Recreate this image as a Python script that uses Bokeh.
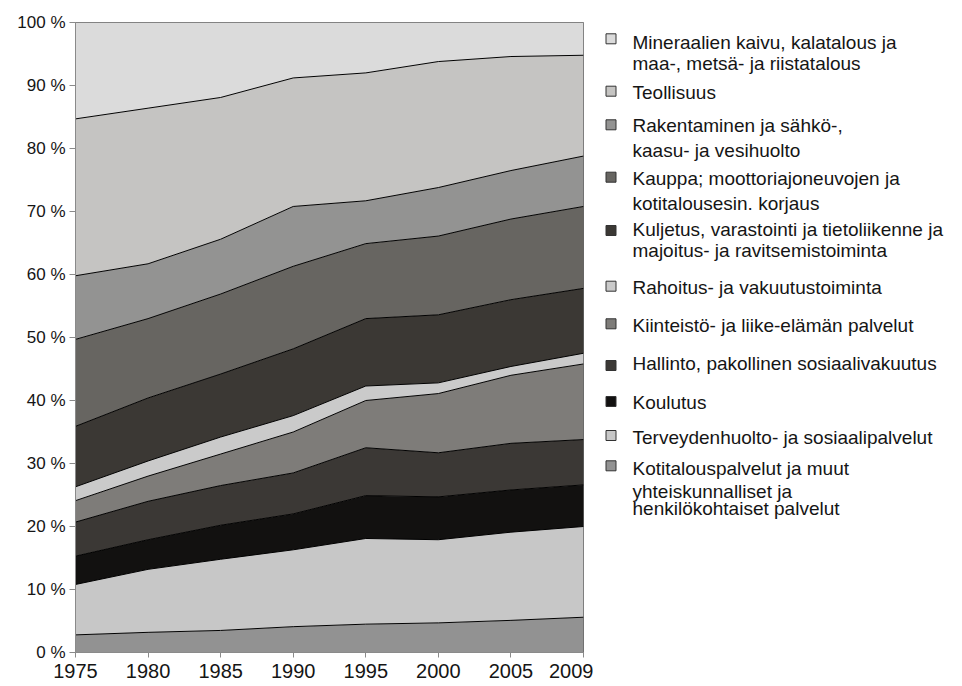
import numpy as np
from bokeh.plotting import figure
from bokeh.layouts import row
from bokeh.models import Range1d, FixedTicker, PrintfTickFormatter
from bokeh.core.properties import value
from bokeh.embed import file_html
from bokeh.resources import INLINE

# ---------------- data (shares of total, %), stacking order bottom -> top
years = ["1975", "1980", "1985", "1990", "1995", "2000", "2005", "2009"]

kotitalous = [2.8, 3.2, 3.5, 4.1, 4.5, 4.7, 5.1, 5.6]
terveys = [8.0, 10.0, 11.3, 12.2, 13.6, 13.2, 14.0, 14.4]
koulutus = [4.5, 4.7, 5.4, 5.7, 6.8, 6.8, 6.7, 6.6]
hallinto = [5.4, 6.1, 6.3, 6.5, 7.6, 7.0, 7.4, 7.2]
kiinteisto = [3.4, 4.0, 5.0, 6.5, 7.5, 9.4, 10.8, 12.0]
rahoitus = [2.2, 2.4, 2.7, 2.6, 2.3, 1.7, 1.4, 1.7]
kuljetus = [9.6, 10.0, 10.0, 10.6, 10.7, 10.8, 10.6, 10.3]
kauppa = [13.8, 12.6, 12.7, 13.1, 11.9, 12.5, 12.8, 13.0]
rakentaminen = [10.1, 8.7, 8.7, 9.5, 6.8, 7.7, 7.7, 8.0]
teollisuus = [24.9, 24.7, 22.5, 20.4, 20.3, 20.0, 18.1, 16.0]
mineraalit = [15.3, 13.6, 11.9, 8.8, 8.0, 6.2, 5.4, 5.2]

series = [kotitalous, terveys, koulutus, hallinto, kiinteisto, rahoitus,
          kuljetus, kauppa, rakentaminen, teollisuus, mineraalit]

# legend labels (top -> bottom, i.e. reverse stacking order), split in lines
legend_labels = [
    ["Mineraalien kaivu, kalatalous ja", "maa-, metsä- ja riistatalous"],
    ["Teollisuus"],
    ["Rakentaminen ja sähkö-,", "kaasu- ja vesihuolto"],
    ["Kauppa; moottoriajoneuvojen ja", "kotitalousesin. korjaus"],
    ["Kuljetus, varastointi ja tietoliikenne ja", "majoitus- ja ravitsemistoiminta"],
    ["Rahoitus- ja vakuutustoiminta"],
    ["Kiinteistö- ja liike-elämän palvelut"],
    ["Hallinto, pakollinen sosiaalivakuutus"],
    ["Koulutus"],
    ["Terveydenhuolto- ja sosiaalipalvelut"],
    ["Kotitalouspalvelut ja muut", "yhteiskunnalliset ja", "henkilökohtaiset palvelut"],
]

y_ticks = [0, 10, 20, 30, 40, 50, 60, 70, 80, 90, 100]

# ---------------- styles
colors = ["#929292", "#c7c7c7", "#121110", "#3b3835", "#7e7c79", "#cacaca",
          "#3b3834", "#676561", "#939392", "#c5c4c2", "#dbdbdb"]
FONT = "Liberation Sans"
TXT = "#151515"

# ---------------- main chart
x = np.arange(len(years))
cum = np.cumsum(np.array(series, dtype=float), axis=0)
lower = np.vstack([np.zeros(len(years)), cum[:-1]])

W_MAIN, H = 593, 684
TOP, BOTTOM = 22, 32
p = figure(width=W_MAIN, height=H, output_backend="svg", toolbar_location=None,
           title=None,
           x_range=Range1d(0, len(years) - 1), y_range=Range1d(0, 100),
           min_border_left=75, min_border_right=10, min_border_top=TOP,
           min_border_bottom=BOTTOM)
p.xgrid.visible = False
p.ygrid.visible = False
p.outline_line_color = "#666666"
p.outline_line_width = 1

for i in range(len(series)):
    p.varea(x=x, y1=lower[i], y2=cum[i], fill_color=colors[i], fill_alpha=1.0)
for i in range(len(series) - 1):
    p.line(x=x, y=cum[i], line_color="#000000", line_width=1)

p.xaxis.ticker = FixedTicker(ticks=list(range(len(years))))
p.xaxis.major_label_overrides = {i: yr for i, yr in enumerate(years)}
p.yaxis.ticker = FixedTicker(ticks=y_ticks)
p.yaxis.formatter = PrintfTickFormatter(format="%d %%")
for ax in (p.xaxis[0], p.yaxis[0]):
    ax.axis_line_color = "#8a8a8a"
    ax.major_tick_line_color = "#8a8a8a"
    ax.minor_tick_line_color = None
    ax.major_tick_in = 0
    ax.major_label_text_font = FONT
    ax.major_label_text_color = TXT
p.xaxis.major_tick_out = 5
p.xaxis.major_label_standoff = 6
p.xaxis.major_label_text_font_size = "20px"
p.yaxis.major_tick_out = 6
p.yaxis.major_label_standoff = 4
p.yaxis.major_label_text_font_size = "17px"

# ---------------- legend panel (pixel coordinates, y downward).
# The row layout aligns this panel's frame with the chart frame (TOP .. H-BOTTOM),
# so the y range is expressed in page pixels over that frame.
LW = 960 - W_MAIN
leg = figure(width=LW, height=H, output_backend="svg", toolbar_location=None,
             title=None, x_axis_location=None, y_axis_location=None,
             x_range=Range1d(0, LW), y_range=Range1d(H - BOTTOM, TOP),
             min_border=0, min_border_left=0, min_border_right=0,
             min_border_top=TOP, min_border_bottom=BOTTOM)
leg.xgrid.visible = False
leg.ygrid.visible = False
leg.outline_line_color = None

square_y = [38.3, 90.7, 124.3, 176.7, 230.0, 285.7, 323.3, 365.0, 401.0, 435.0, 465.3]
line_y = [[41.7, 63.3], [91.7], [125.0, 150.0], [178.3, 202.7], [229.0, 250.0],
          [287.3], [325.0], [363.3], [401.7], [436.7], [468.3, 491.0, 507.5]]

leg_colors = colors[::-1]
leg.rect(x=[17.5] * len(square_y), y=square_y, width=10, height=10,
         fill_color=leg_colors, line_color="#333333", line_width=1)

tx, ty, tt = [], [], []
for lines, ys in zip(legend_labels, line_y):
    for t, yy in zip(lines, ys):
        tx.append(39)
        ty.append(yy)
        tt.append(t)
leg.text(x=tx, y=ty, text=tt, text_font=value(FONT), text_font_size="19px",
         text_color=TXT, text_baseline="middle", text_align="left")

layout = row(p, leg)
open("out.html", "w").write(file_html(layout, INLINE))
